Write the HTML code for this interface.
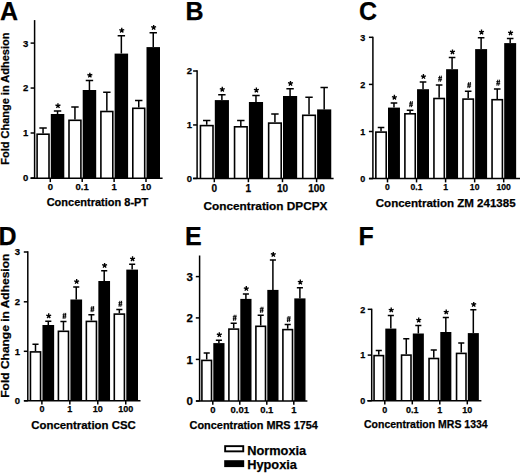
<!DOCTYPE html>
<html><head><meta charset="utf-8"><style>
html,body{margin:0;padding:0;background:#fff;}
svg{display:block;}
text{font-family:"Liberation Sans", sans-serif;font-weight:bold;fill:#000;stroke:#000;stroke-width:0.25px;}
.ax{stroke:#000;stroke-width:1.5;fill:none;}
.eb{stroke:#000;stroke-width:1.5;fill:none;}
</style></head><body>
<svg width="520" height="473" viewBox="0 0 520 473">
<rect width="520" height="473" fill="#fff"/>
<text x="28.3" y="181.4" font-size="9.5" text-anchor="end">0</text>
<text x="28.3" y="136.4" font-size="9.5" text-anchor="end">1</text>
<text x="28.3" y="91.45" font-size="9.5" text-anchor="end">2</text>
<text x="28.3" y="46.5" font-size="9.5" text-anchor="end">3</text>
<text x="50.3" y="189.9" font-size="9.5" text-anchor="middle">0</text>
<path d="M43.05,133.4V128.1M39.35,128.1H46.75" class="eb"/>
<rect x="36.3" y="133.4" width="13.5" height="44.9"/>
<rect x="37.9" y="135" width="10.3" height="43.3" fill="#fff"/>
<path d="M57.55,114V111.1M53.85,111.1H61.25" class="eb"/>
<rect x="50.8" y="114" width="13.5" height="64.3"/>
<path d="M57.95,105.8L57.95,103.2M57.95,105.8L55.48,105M57.95,105.8L56.42,107.9M57.95,105.8L59.48,107.9M57.95,105.8L60.42,105" stroke="#000" stroke-width="1.35" fill="none"/>
<text x="82.2" y="189.9" font-size="9.5" text-anchor="middle">0.1</text>
<path d="M74.95,119.5V107.1M71.25,107.1H78.65" class="eb"/>
<rect x="68.2" y="119.5" width="13.5" height="58.8"/>
<rect x="69.8" y="121.1" width="10.3" height="57.2" fill="#fff"/>
<path d="M89.45,90V80.6M85.75,80.6H93.15" class="eb"/>
<rect x="82.7" y="90" width="13.5" height="88.3"/>
<path d="M89.85,75.3L89.85,72.7M89.85,75.3L87.38,74.5M89.85,75.3L88.32,77.4M89.85,75.3L91.38,77.4M89.85,75.3L92.32,74.5" stroke="#000" stroke-width="1.35" fill="none"/>
<text x="114.1" y="189.9" font-size="9.5" text-anchor="middle">1</text>
<path d="M106.85,110.7V92.3M103.15,92.3H110.55" class="eb"/>
<rect x="100.1" y="110.7" width="13.5" height="67.6"/>
<rect x="101.7" y="112.3" width="10.3" height="66" fill="#fff"/>
<path d="M121.35,53.6V35.7M117.65,35.7H125.05" class="eb"/>
<rect x="114.6" y="53.6" width="13.5" height="124.7"/>
<path d="M121.75,30.4L121.75,27.8M121.75,30.4L119.28,29.6M121.75,30.4L120.22,32.5M121.75,30.4L123.28,32.5M121.75,30.4L124.22,29.6" stroke="#000" stroke-width="1.35" fill="none"/>
<text x="146" y="189.9" font-size="9.5" text-anchor="middle">10</text>
<path d="M138.75,107.5V100.5M135.05,100.5H142.45" class="eb"/>
<rect x="132" y="107.5" width="13.5" height="70.8"/>
<rect x="133.6" y="109.1" width="10.3" height="69.2" fill="#fff"/>
<path d="M153.25,47.1V32.8M149.55,32.8H156.95" class="eb"/>
<rect x="146.5" y="47.1" width="13.5" height="131.2"/>
<path d="M153.65,27.5L153.65,24.9M153.65,27.5L151.18,26.7M153.65,27.5L152.12,29.6M153.65,27.5L155.18,29.6M153.65,27.5L156.12,26.7" stroke="#000" stroke-width="1.35" fill="none"/>
<path d="M34.6,20.1V178.3" class="ax"/>
<path d="M30.6,178H34.6" class="ax"/>
<path d="M30.6,133H34.6" class="ax"/>
<path d="M30.6,88.05H34.6" class="ax"/>
<path d="M30.6,43.1H34.6" class="ax"/>
<path d="M30.6,178.3H162.6" class="ax"/>
<path d="M50.3,178.3V182.1" class="ax"/>
<path d="M82.2,178.3V182.1" class="ax"/>
<path d="M114.1,178.3V182.1" class="ax"/>
<path d="M146,178.3V182.1" class="ax"/>
<text x="97.4" y="205.7" font-size="11" text-anchor="middle">Concentration 8-PT</text>
<text x="0.1" y="19.7" font-size="25">A</text>
<text x="192" y="181.8" font-size="9.5" text-anchor="end">0</text>
<text x="192" y="128.35" font-size="9.5" text-anchor="end">1</text>
<text x="192" y="74.4" font-size="9.5" text-anchor="end">2</text>
<text x="214.3" y="191.58" font-size="10" text-anchor="middle">0</text>
<path d="M206.72,124.8V120.4M203.03,120.4H210.42" class="eb"/>
<rect x="199.65" y="124.8" width="14.15" height="53.6"/>
<rect x="201.25" y="126.4" width="10.95" height="52" fill="#fff"/>
<path d="M221.88,100.1V94.7M218.18,94.7H225.57" class="eb"/>
<rect x="214.8" y="100.1" width="14.15" height="78.3"/>
<path d="M222.28,89.4L222.28,86.8M222.28,89.4L219.8,88.6M222.28,89.4L220.75,91.5M222.28,89.4L223.8,91.5M222.28,89.4L224.75,88.6" stroke="#000" stroke-width="1.35" fill="none"/>
<text x="248.4" y="191.58" font-size="10" text-anchor="middle">1</text>
<path d="M240.82,126V120.4M237.12,120.4H244.52" class="eb"/>
<rect x="233.75" y="126" width="14.15" height="52.4"/>
<rect x="235.35" y="127.6" width="10.95" height="50.8" fill="#fff"/>
<path d="M255.97,102V95.5M252.28,95.5H259.68" class="eb"/>
<rect x="248.9" y="102" width="14.15" height="76.4"/>
<path d="M256.38,90.2L256.38,87.6M256.38,90.2L253.9,89.4M256.38,90.2L254.85,92.3M256.38,90.2L257.9,92.3M256.38,90.2L258.85,89.4" stroke="#000" stroke-width="1.35" fill="none"/>
<text x="282.5" y="191.58" font-size="10" text-anchor="middle">10</text>
<path d="M274.93,122.3V114.1M271.23,114.1H278.62" class="eb"/>
<rect x="267.85" y="122.3" width="14.15" height="56.1"/>
<rect x="269.45" y="123.9" width="10.95" height="54.5" fill="#fff"/>
<path d="M290.07,96V88.8M286.38,88.8H293.77" class="eb"/>
<rect x="283" y="96" width="14.15" height="82.4"/>
<path d="M290.47,83.5L290.47,80.9M290.47,83.5L288,82.7M290.47,83.5L288.95,85.6M290.47,83.5L292,85.6M290.47,83.5L292.95,82.7" stroke="#000" stroke-width="1.35" fill="none"/>
<text x="316.6" y="191.58" font-size="10" text-anchor="middle">100</text>
<path d="M309.03,114.5V97.2M305.33,97.2H312.73" class="eb"/>
<rect x="301.95" y="114.5" width="14.15" height="63.9"/>
<rect x="303.55" y="116.1" width="10.95" height="62.3" fill="#fff"/>
<path d="M324.18,109.4V87.6M320.48,87.6H327.88" class="eb"/>
<rect x="317.1" y="109.4" width="14.15" height="69"/>
<path d="M197.1,70.2V178.4" class="ax"/>
<path d="M193.1,178.4H197.1" class="ax"/>
<path d="M193.1,124.95H197.1" class="ax"/>
<path d="M193.1,71H197.1" class="ax"/>
<path d="M193.2,178.4H333.6" class="ax"/>
<path d="M214.3,178.4V182.2" class="ax"/>
<path d="M248.4,178.4V182.2" class="ax"/>
<path d="M282.5,178.4V182.2" class="ax"/>
<path d="M316.6,178.4V182.2" class="ax"/>
<text x="265.5" y="210" font-size="11.8" text-anchor="middle">Concentration DPCPX</text>
<text x="185.5" y="19.6" font-size="25">B</text>
<text x="365.3" y="181.82" font-size="9" text-anchor="end">0</text>
<text x="365.3" y="134.72" font-size="9" text-anchor="end">1</text>
<text x="365.3" y="87.62" font-size="9" text-anchor="end">2</text>
<text x="365.3" y="40.52" font-size="9" text-anchor="end">3</text>
<text x="387.5" y="190.48" font-size="8.6" text-anchor="middle">0</text>
<path d="M381.03,131.3V127.6M377.73,127.6H384.33" class="eb"/>
<rect x="375.05" y="131.3" width="11.95" height="47.3"/>
<rect x="376.65" y="132.9" width="8.75" height="45.7" fill="#fff"/>
<path d="M393.98,107.6V102.9M390.68,102.9H397.28" class="eb"/>
<rect x="388" y="107.6" width="11.95" height="71"/>
<path d="M394.38,97.4L394.38,94.8M394.38,97.4L391.9,96.6M394.38,97.4L392.85,99.5M394.38,97.4L395.9,99.5M394.38,97.4L396.85,96.6" stroke="#000" stroke-width="1.35" fill="none"/>
<text x="416.55" y="190.48" font-size="8.6" text-anchor="middle">0.1</text>
<path d="M410.08,113V110.35M406.78,110.35H413.38" class="eb"/>
<rect x="404.1" y="113" width="11.95" height="65.6"/>
<rect x="405.7" y="114.6" width="8.75" height="64" fill="#fff"/>
<path d="M410.67,101.15L409.77,107.15M412.38,101.15L411.48,107.15M409.13,103.13H413.03M409.13,105.17H413.03" stroke="#000" stroke-width="0.95" fill="none"/>
<path d="M423.03,89.2V82.1M419.73,82.1H426.33" class="eb"/>
<rect x="417.05" y="89.2" width="11.95" height="89.4"/>
<path d="M423.43,76.6L423.43,74M423.43,76.6L420.95,75.8M423.43,76.6L421.9,78.7M423.43,76.6L424.95,78.7M423.43,76.6L425.9,75.8" stroke="#000" stroke-width="1.35" fill="none"/>
<text x="445.6" y="190.48" font-size="8.6" text-anchor="middle">1</text>
<path d="M439.13,97.7V84.9M435.83,84.9H442.43" class="eb"/>
<rect x="433.15" y="97.7" width="11.95" height="80.9"/>
<rect x="434.75" y="99.3" width="8.75" height="79.3" fill="#fff"/>
<path d="M439.72,75.7L438.82,81.7M441.43,75.7L440.53,81.7M438.18,77.68H442.08M438.18,79.72H442.08" stroke="#000" stroke-width="0.95" fill="none"/>
<path d="M452.08,69.2V57.5M448.78,57.5H455.38" class="eb"/>
<rect x="446.1" y="69.2" width="11.95" height="109.4"/>
<path d="M452.48,52L452.48,49.4M452.48,52L450,51.2M452.48,52L450.95,54.1M452.48,52L454,54.1M452.48,52L454.95,51.2" stroke="#000" stroke-width="1.35" fill="none"/>
<text x="474.65" y="190.48" font-size="8.6" text-anchor="middle">10</text>
<path d="M468.18,98.3V91.3M464.88,91.3H471.48" class="eb"/>
<rect x="462.2" y="98.3" width="11.95" height="80.3"/>
<rect x="463.8" y="99.9" width="8.75" height="78.7" fill="#fff"/>
<path d="M468.77,82.1L467.87,88.1M470.48,82.1L469.58,88.1M467.23,84.08H471.12M467.23,86.12H471.12" stroke="#000" stroke-width="0.95" fill="none"/>
<path d="M481.12,49.1V37.7M477.82,37.7H484.43" class="eb"/>
<rect x="475.15" y="49.1" width="11.95" height="129.5"/>
<path d="M481.52,32.2L481.52,29.6M481.52,32.2L479.05,31.4M481.52,32.2L480,34.3M481.52,32.2L483.05,34.3M481.52,32.2L484,31.4" stroke="#000" stroke-width="1.35" fill="none"/>
<text x="503.7" y="190.48" font-size="8.6" text-anchor="middle">100</text>
<path d="M497.23,98.9V88.9M493.93,88.9H500.53" class="eb"/>
<rect x="491.25" y="98.9" width="11.95" height="79.7"/>
<rect x="492.85" y="100.5" width="8.75" height="78.1" fill="#fff"/>
<path d="M497.82,79.7L496.92,85.7M499.53,79.7L498.63,85.7M496.28,81.68H500.18M496.28,83.72H500.18" stroke="#000" stroke-width="0.95" fill="none"/>
<path d="M510.18,43.1V38.5M506.88,38.5H513.48" class="eb"/>
<rect x="504.2" y="43.1" width="11.95" height="135.5"/>
<path d="M510.57,33L510.57,30.4M510.57,33L508.1,32.2M510.57,33L509.05,35.1M510.57,33L512.1,35.1M510.57,33L513.05,32.2" stroke="#000" stroke-width="1.35" fill="none"/>
<path d="M372.9,36.7V178.6" class="ax"/>
<path d="M368.9,178.6H372.9" class="ax"/>
<path d="M368.9,131.5H372.9" class="ax"/>
<path d="M368.9,84.4H372.9" class="ax"/>
<path d="M368.9,37.3H372.9" class="ax"/>
<path d="M369.1,178.6H520" class="ax"/>
<path d="M387.5,178.6V182.4" class="ax"/>
<path d="M416.55,178.6V182.4" class="ax"/>
<path d="M445.6,178.6V182.4" class="ax"/>
<path d="M474.65,178.6V182.4" class="ax"/>
<path d="M503.7,178.6V182.4" class="ax"/>
<text x="445.7" y="206.6" font-size="11.55" text-anchor="middle">Concentration ZM 241385</text>
<text x="359" y="19.6" font-size="25">C</text>
<text x="20" y="404.2" font-size="9.5" text-anchor="end">0</text>
<text x="20" y="354.7" font-size="9.5" text-anchor="end">1</text>
<text x="20" y="305.2" font-size="9.5" text-anchor="end">2</text>
<text x="20" y="255.4" font-size="9.5" text-anchor="end">3</text>
<text x="41.9" y="412.32" font-size="9" text-anchor="middle">0</text>
<path d="M35.5,351.1V344.3M32.45,344.3H38.55" class="eb"/>
<rect x="29.65" y="351.1" width="11.7" height="49.7"/>
<rect x="31.25" y="352.7" width="8.5" height="48.1" fill="#fff"/>
<path d="M48.3,325V321.2M45.25,321.2H51.35" class="eb"/>
<rect x="42.45" y="325" width="11.7" height="75.8"/>
<path d="M48.7,315.9L48.7,313.3M48.7,315.9L46.23,315.1M48.7,315.9L47.17,318M48.7,315.9L50.23,318M48.7,315.9L51.17,315.1" stroke="#000" stroke-width="1.35" fill="none"/>
<text x="69.85" y="412.32" font-size="9" text-anchor="middle">1</text>
<path d="M63.45,330.5V321.5M60.4,321.5H66.5" class="eb"/>
<rect x="57.6" y="330.5" width="11.7" height="70.3"/>
<rect x="59.2" y="332.1" width="8.5" height="68.7" fill="#fff"/>
<path d="M64.04,312.9L63.14,318.9M65.76,312.9L64.86,318.9M62.5,314.88H66.4M62.5,316.92H66.4" stroke="#000" stroke-width="0.95" fill="none"/>
<path d="M76.25,299.5V286.9M73.2,286.9H79.3" class="eb"/>
<rect x="70.4" y="299.5" width="11.7" height="101.3"/>
<path d="M76.65,281.6L76.65,279M76.65,281.6L74.18,280.8M76.65,281.6L75.12,283.7M76.65,281.6L78.18,283.7M76.65,281.6L79.12,280.8" stroke="#000" stroke-width="1.35" fill="none"/>
<text x="97.8" y="412.32" font-size="9" text-anchor="middle">10</text>
<path d="M91.4,320.6V314.7M88.35,314.7H94.45" class="eb"/>
<rect x="85.55" y="320.6" width="11.7" height="80.2"/>
<rect x="87.15" y="322.2" width="8.5" height="78.6" fill="#fff"/>
<path d="M91.99,306.1L91.09,312.1M93.71,306.1L92.81,312.1M90.45,308.08H94.35M90.45,310.12H94.35" stroke="#000" stroke-width="0.95" fill="none"/>
<path d="M104.2,281V270.8M101.15,270.8H107.25" class="eb"/>
<rect x="98.35" y="281" width="11.7" height="119.8"/>
<path d="M104.6,265.5L104.6,262.9M104.6,265.5L102.13,264.7M104.6,265.5L103.07,267.6M104.6,265.5L106.13,267.6M104.6,265.5L107.07,264.7" stroke="#000" stroke-width="1.35" fill="none"/>
<text x="125.75" y="412.32" font-size="9" text-anchor="middle">100</text>
<path d="M119.35,313.3V309.4M116.3,309.4H122.4" class="eb"/>
<rect x="113.5" y="313.3" width="11.7" height="87.5"/>
<rect x="115.1" y="314.9" width="8.5" height="85.9" fill="#fff"/>
<path d="M119.94,300.8L119.04,306.8M121.66,300.8L120.76,306.8M118.4,302.78H122.3M118.4,304.82H122.3" stroke="#000" stroke-width="0.95" fill="none"/>
<path d="M132.15,269.6V264.2M129.1,264.2H135.2" class="eb"/>
<rect x="126.3" y="269.6" width="11.7" height="131.2"/>
<path d="M132.55,258.9L132.55,256.3M132.55,258.9L130.08,258.1M132.55,258.9L131.02,261M132.55,258.9L134.08,261M132.55,258.9L135.02,258.1" stroke="#000" stroke-width="1.35" fill="none"/>
<path d="M27.8,251.3V400.8" class="ax"/>
<path d="M23.8,400.8H27.8" class="ax"/>
<path d="M23.8,351.3H27.8" class="ax"/>
<path d="M23.8,301.8H27.8" class="ax"/>
<path d="M23.8,252H27.8" class="ax"/>
<path d="M24.2,400.8H140.5" class="ax"/>
<path d="M41.9,400.8V404.6" class="ax"/>
<path d="M69.85,400.8V404.6" class="ax"/>
<path d="M97.8,400.8V404.6" class="ax"/>
<path d="M125.75,400.8V404.6" class="ax"/>
<text x="83.5" y="428.6" font-size="11.4" text-anchor="middle">Concentration CSC</text>
<text x="-1.5" y="244.8" font-size="25">D</text>
<text x="193" y="405.12" font-size="11.5" text-anchor="end">0</text>
<text x="193" y="363.52" font-size="11.5" text-anchor="end">1</text>
<text x="193" y="322.02" font-size="11.5" text-anchor="end">2</text>
<text x="193" y="280.72" font-size="11.5" text-anchor="end">3</text>
<text x="212.8" y="413.2" font-size="9.5" text-anchor="middle">0</text>
<path d="M206.7,359.6V353M203.65,353H209.75" class="eb"/>
<rect x="201.1" y="359.6" width="11.2" height="41.4"/>
<rect x="202.7" y="361.2" width="8" height="39.8" fill="#fff"/>
<path d="M218.9,343.1V340.3M215.85,340.3H221.95" class="eb"/>
<rect x="213.3" y="343.1" width="11.2" height="57.9"/>
<path d="M219.3,334.8L219.3,332.2M219.3,334.8L216.83,334M219.3,334.8L217.77,336.9M219.3,334.8L220.83,336.9M219.3,334.8L221.77,334" stroke="#000" stroke-width="1.35" fill="none"/>
<text x="239.8" y="413.2" font-size="9.5" text-anchor="middle">0.01</text>
<path d="M233.7,328.3V323.2M230.65,323.2H236.75" class="eb"/>
<rect x="228.1" y="328.3" width="11.2" height="72.7"/>
<rect x="229.7" y="329.9" width="8" height="71.1" fill="#fff"/>
<path d="M234.29,314.8L233.39,320.8M236.01,314.8L235.11,320.8M232.75,316.78H236.65M232.75,318.82H236.65" stroke="#000" stroke-width="0.95" fill="none"/>
<path d="M245.9,298.9V294.1M242.85,294.1H248.95" class="eb"/>
<rect x="240.3" y="298.9" width="11.2" height="102.1"/>
<path d="M246.3,288.6L246.3,286M246.3,288.6L243.83,287.8M246.3,288.6L244.77,290.7M246.3,288.6L247.83,290.7M246.3,288.6L248.77,287.8" stroke="#000" stroke-width="1.35" fill="none"/>
<text x="266.8" y="413.2" font-size="9.5" text-anchor="middle">0.1</text>
<path d="M260.7,325.5V315.2M257.65,315.2H263.75" class="eb"/>
<rect x="255.1" y="325.5" width="11.2" height="75.5"/>
<rect x="256.7" y="327.1" width="8" height="73.9" fill="#fff"/>
<path d="M261.29,306.8L260.39,312.8M263.01,306.8L262.11,312.8M259.75,308.78H263.65M259.75,310.82H263.65" stroke="#000" stroke-width="0.95" fill="none"/>
<path d="M272.9,289.9V260M269.85,260H275.95" class="eb"/>
<rect x="267.3" y="289.9" width="11.2" height="111.1"/>
<path d="M273.3,254.5L273.3,251.9M273.3,254.5L270.83,253.7M273.3,254.5L271.77,256.6M273.3,254.5L274.83,256.6M273.3,254.5L275.77,253.7" stroke="#000" stroke-width="1.35" fill="none"/>
<text x="293.8" y="413.2" font-size="9.5" text-anchor="middle">1</text>
<path d="M287.7,328.8V324.5M284.65,324.5H290.75" class="eb"/>
<rect x="282.1" y="328.8" width="11.2" height="72.2"/>
<rect x="283.7" y="330.4" width="8" height="70.6" fill="#fff"/>
<path d="M288.29,316.1L287.39,322.1M290.01,316.1L289.11,322.1M286.75,318.08H290.65M286.75,320.12H290.65" stroke="#000" stroke-width="0.95" fill="none"/>
<path d="M299.9,298.4V287.7M296.85,287.7H302.95" class="eb"/>
<rect x="294.3" y="298.4" width="11.2" height="102.6"/>
<path d="M300.3,282.2L300.3,279.6M300.3,282.2L297.83,281.4M300.3,282.2L298.77,284.3M300.3,282.2L301.83,284.3M300.3,282.2L302.77,281.4" stroke="#000" stroke-width="1.35" fill="none"/>
<path d="M199.6,255.5V401" class="ax"/>
<path d="M195.8,401H199.6" class="ax"/>
<path d="M195.8,359.4H199.6" class="ax"/>
<path d="M195.8,317.9H199.6" class="ax"/>
<path d="M195.8,276.6H199.6" class="ax"/>
<path d="M196.1,401H307.4" class="ax"/>
<path d="M212.8,401V404.8" class="ax"/>
<path d="M239.8,401V404.8" class="ax"/>
<path d="M266.8,401V404.8" class="ax"/>
<path d="M293.8,401V404.8" class="ax"/>
<text x="253.75" y="428.6" font-size="10.9" text-anchor="middle">Concentration MRS 1754</text>
<text x="185" y="245.4" font-size="25">E</text>
<text x="365.3" y="404.02" font-size="9" text-anchor="end">0</text>
<text x="365.3" y="358.32" font-size="9" text-anchor="end">1</text>
<text x="365.3" y="312.52" font-size="9" text-anchor="end">2</text>
<text x="384.8" y="412.62" font-size="9" text-anchor="middle">0</text>
<path d="M378.77,354.8V350.6M375.72,350.6H381.82" class="eb"/>
<rect x="373.25" y="354.8" width="11.05" height="46"/>
<rect x="374.85" y="356.4" width="7.85" height="44.4" fill="#fff"/>
<path d="M390.82,328.6V315.4M387.77,315.4H393.88" class="eb"/>
<rect x="385.3" y="328.6" width="11.05" height="72.2"/>
<path d="M391.22,310.1L391.22,307.5M391.22,310.1L388.75,309.3M391.22,310.1L389.7,312.2M391.22,310.1L392.75,312.2M391.22,310.1L393.7,309.3" stroke="#000" stroke-width="1.35" fill="none"/>
<text x="412.3" y="412.62" font-size="9" text-anchor="middle">0.1</text>
<path d="M406.27,354.3V338.7M403.22,338.7H409.32" class="eb"/>
<rect x="400.75" y="354.3" width="11.05" height="46.5"/>
<rect x="402.35" y="355.9" width="7.85" height="44.9" fill="#fff"/>
<path d="M418.32,333.5V325.5M415.27,325.5H421.38" class="eb"/>
<rect x="412.8" y="333.5" width="11.05" height="67.3"/>
<path d="M418.72,320.2L418.72,317.6M418.72,320.2L416.25,319.4M418.72,320.2L417.2,322.3M418.72,320.2L420.25,322.3M418.72,320.2L421.2,319.4" stroke="#000" stroke-width="1.35" fill="none"/>
<text x="439.8" y="412.62" font-size="9" text-anchor="middle">1</text>
<path d="M433.77,357.7V350.1M430.72,350.1H436.82" class="eb"/>
<rect x="428.25" y="357.7" width="11.05" height="43.1"/>
<rect x="429.85" y="359.3" width="7.85" height="41.5" fill="#fff"/>
<path d="M445.82,332V317.4M442.77,317.4H448.88" class="eb"/>
<rect x="440.3" y="332" width="11.05" height="68.8"/>
<path d="M446.22,312.1L446.22,309.5M446.22,312.1L443.75,311.3M446.22,312.1L444.7,314.2M446.22,312.1L447.75,314.2M446.22,312.1L448.7,311.3" stroke="#000" stroke-width="1.35" fill="none"/>
<text x="467.3" y="412.62" font-size="9" text-anchor="middle">10</text>
<path d="M461.27,352.6V343M458.22,343H464.32" class="eb"/>
<rect x="455.75" y="352.6" width="11.05" height="48.2"/>
<rect x="457.35" y="354.2" width="7.85" height="46.6" fill="#fff"/>
<path d="M473.32,333.1V309.8M470.27,309.8H476.38" class="eb"/>
<rect x="467.8" y="333.1" width="11.05" height="67.7"/>
<path d="M473.72,304.5L473.72,301.9M473.72,304.5L471.25,303.7M473.72,304.5L472.2,306.6M473.72,304.5L475.25,306.6M473.72,304.5L476.2,303.7" stroke="#000" stroke-width="1.35" fill="none"/>
<path d="M371.7,308.7V400.8" class="ax"/>
<path d="M367.7,400.8H371.7" class="ax"/>
<path d="M367.7,355.1H371.7" class="ax"/>
<path d="M367.7,309.3H371.7" class="ax"/>
<path d="M367.3,400.8H481.4" class="ax"/>
<path d="M384.8,400.8V404.4" class="ax"/>
<path d="M412.3,400.8V404.4" class="ax"/>
<path d="M439.8,400.8V404.4" class="ax"/>
<path d="M467.3,400.8V404.4" class="ax"/>
<text x="425.85" y="428" font-size="10.5" text-anchor="middle">Concentration MRS 1334</text>
<text x="358.5" y="245.4" font-size="25">F</text>
<text transform="translate(8.8,98.7) rotate(-90)" font-size="11" text-anchor="middle">Fold Change in Adhesion</text>
<text transform="translate(8.8,325.7) rotate(-90) scale(1.09,1)" font-size="11" text-anchor="middle">Fold Change in Adhesion</text>
<rect x="225.15" y="446.15" width="18.1" height="5.2" fill="#fff" stroke="#000" stroke-width="1.9"/>
<rect x="224.2" y="460.2" width="20" height="6.9" fill="#000"/>
<text x="247.2" y="454.5" font-size="12.8">Normoxia</text>
<text x="247.2" y="468.9" font-size="12.8">Hypoxia</text>
</svg>
</body></html>
